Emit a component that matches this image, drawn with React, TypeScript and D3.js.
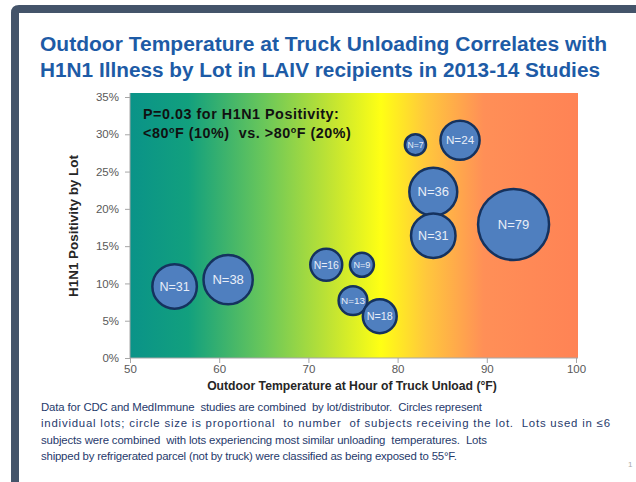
import React, { useEffect, useRef } from "react";
import * as d3 from "d3";

// data
const temps = [55, 61, 72, 76, 75, 78, 82, 87, 84, 84, 93];
const positivity = [0.096, 0.105, 0.125, 0.125, 0.077, 0.056, 0.286, 0.292, 0.223, 0.164, 0.179];
const subjects = [31, 38, 16, 9, 13, 18, 7, 24, 36, 31, 79];
const xTicks = [50, 60, 70, 80, 90, 100];
const yTicks = [0, 0.05, 0.1, 0.15, 0.2, 0.25, 0.3, 0.35];
const titleLines = [
  "Outdoor Temperature at Truck Unloading Correlates with",
  "H1N1 Illness by Lot in LAIV recipients in 2013-14 Studies",
];
const noteLines = [
  "Data for CDC and MedImmune  studies are combined  by lot/distributor.  Circles represent",
  "individual lots; circle size is proportional  to number  of subjects receiving the lot.  Lots used in \u22646",
  "subjects were combined  with lots experiencing most similar unloading  temperatures.  Lots",
  "shipped by refrigerated parcel (not by truck) were classified as being exposed to 55\u00B0F.",
];

export default function App() {
  const ref = useRef<SVGSVGElement>(null);

  useEffect(() => {
    const svg = d3.select(ref.current);
    svg.selectAll("*").remove();
    const font = "Liberation Sans, Arial, sans-serif";

    const left = 130, right = 576, top = 93, bottom = 358;
    const x = d3.scaleLinear().domain([50, 100]).range([left, right]);
    const y = d3.scaleLinear().domain([0, 0.35]).range([bottom, 97]);
    const r = d3.scaleSqrt().domain([0, 79]).range([0, 35.5]);

    // slide frame
    svg.append("rect").attr("width", 636).attr("height", 482).attr("fill", "#fff");
    svg.append("path")
      .attr("d", "M11,482 L11,13 Q11,5 19,5 L636,5 L636,13 L19,13 L19,482 Z")
      .attr("fill", "#44546a");

    // title
    svg.selectAll(".title").data(titleLines).enter().append("text")
      .attr("x", 40).attr("y", (d, i) => 51 + i * 26)
      .attr("font-family", font)
      .attr("font-weight", "bold").attr("font-size", 19.5)
      .attr("fill", "#1d5ba6")
      .attr("textLength", (d, i) => (i === 0 ? 567 : 560))
      .attr("lengthAdjust", "spacingAndGlyphs")
      .text(d => d);

    // background gradient
    const grad = svg.append("defs").append("linearGradient").attr("id", "bg")
      .attr("x1", "0").attr("x2", "1").attr("y1", "0").attr("y2", "0");
    const stops: [number, string][] = [
      [0, "#0a9388"], [0.13, "#12a07e"], [0.3, "#6ac75a"], [0.45, "#c2e432"],
      [0.56, "#ffff14"], [0.66, "#ffc83c"], [0.79, "#ff8f57"], [1, "#ff8355"],
    ];
    stops.forEach(s => grad.append("stop").attr("offset", s[0]).attr("stop-color", s[1]));
    svg.append("rect").attr("x", left).attr("y", top).attr("width", right - left + 2)
      .attr("height", bottom - top).attr("fill", "url(#bg)");

    // axes
    const xAxis = d3.axisBottom(x).tickValues(xTicks).tickSize(5).tickSizeOuter(0);
    const yAxis = d3.axisLeft(y).tickValues(yTicks).tickFormat(d3.format(".0%")).tickSize(5).tickSizeOuter(0);
    const gx = svg.append("g").attr("transform", `translate(0,${bottom})`).call(xAxis);
    const gy = svg.append("g").attr("transform", `translate(${left},0)`).call(yAxis);
    [gx, gy].forEach(g => {
      g.select(".domain").attr("stroke", "#a6a6a6");
      g.selectAll(".tick line").attr("stroke", "#a6a6a6");
      g.selectAll(".tick text").attr("fill", "#595959").attr("font-size", 11.5)
        .attr("font-family", font);
    });
    gx.select(".domain").attr("d", `M${left},0H${right + 2}`);
    gx.selectAll(".tick text").attr("y", 7);
    gy.selectAll(".tick text").attr("x", -11);
    gy.select(".domain").attr("d", `M0,${bottom}V${top}`);

    // axis titles
    svg.append("text").attr("x", 352).attr("y", 390).attr("text-anchor", "middle")
      .attr("font-family", font).attr("font-weight", "bold")
      .attr("font-size", 12.2).attr("fill", "#262626")
      .text("Outdoor Temperature at Hour of Truck Unload (\u00B0F)");
    svg.append("text").attr("transform", "translate(78,226) rotate(-90)").attr("text-anchor", "middle")
      .attr("font-family", font).attr("font-weight", "bold")
      .attr("font-size", 13).attr("fill", "#262626")
      .attr("textLength", 142).attr("lengthAdjust", "spacingAndGlyphs")
      .text("H1N1 Positivity by Lot");

    // p-value note
    const note = svg.append("text").attr("font-family", font)
      .attr("font-weight", "bold").attr("font-size", 14.3).attr("fill", "#111")
      .attr("letter-spacing", 0.55).style("white-space", "pre");
    note.append("tspan").attr("x", 143).attr("y", 119).text("P=0.03 for H1N1 Positivity:");
    const l2 = note.append("tspan").attr("x", 143).attr("y", 138).text("<80");
    l2.append("tspan").attr("font-size", 9).attr("dy", -5).text("o");
    l2.append("tspan").attr("dy", 5).text("F (10%)  vs. >80");
    l2.append("tspan").attr("font-size", 9).attr("dy", -5).text("o");
    l2.append("tspan").attr("dy", 5).text("F (20%)");

    // bubbles
    const bubbles = svg.selectAll(".bubble").data(subjects).enter().append("g")
      .attr("transform", (d, i) => `translate(${x(temps[i])},${y(positivity[i])})`);
    bubbles.append("circle").attr("r", d => r(d))
      .attr("fill", "#4f7fbf").attr("stroke", "#15325e").attr("stroke-width", 2.5);
    bubbles.append("text").attr("text-anchor", "middle").attr("dy", "0.36em")
      .attr("font-family", font)
      .attr("font-size", d => Math.min(13, 5 + r(d) * 0.34))
      .attr("fill", "#e8eef8")
      .text(d => "N=" + d);

    // footnote, line widths as measured on the slide
    const noteWidths = [441, 569, 446, 416];
    svg.selectAll(".note").data(noteLines).enter().append("text")
      .attr("x", 41).attr("y", (d, i) => 411 + i * 16.4)
      .attr("font-family", font).style("white-space", "pre")
      .attr("font-size", 11.4).attr("fill", "#1f3a6c")
      .attr("textLength", (d, i) => noteWidths[i]).attr("lengthAdjust", "spacing")
      .text(d => d);

    svg.append("text").attr("x", 628).attr("y", 467).attr("font-size", 8)
      .attr("font-family", font).attr("fill", "#aaa").text("1");
  }, []);

  return (
    <svg ref={ref} width={636} height={482} style={{ position: "absolute", left: 0, top: 0 }} />
  );
}
